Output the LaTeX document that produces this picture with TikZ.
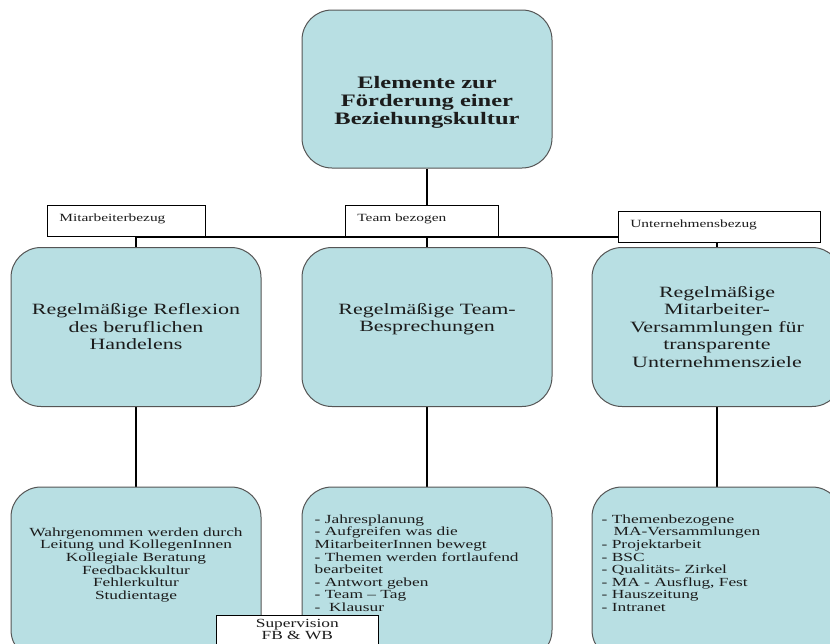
\documentclass[tikz,border=0pt]{standalone}
\usepackage{fontspec}
\newfontfamily\boxfont[FakeStretch=1.4,Ligatures=TeX]{Liberation Serif}
\usetikzlibrary{positioning,backgrounds}
\definecolor{boxblue}{RGB}{184,223,227}
\definecolor{boxline}{RGB}{85,85,85}
\definecolor{inktext}{RGB}{28,28,28}
\tikzset{
  rbox/.style={draw=boxline,fill=boxblue,line width=1pt,rounded corners=30pt,minimum width=250pt},
  bigtext/.style={align=center,text=inktext,font=\boxfont\bfseries\fontsize{17.5}{18}\selectfont},
  midtext/.style={align=center,text=inktext,font=\boxfont\fontsize{15.7}{17.5}\selectfont},
  smalltext/.style={text=inktext,inner sep=0pt,font=\boxfont\fontsize{12.4}{12.6}\selectfont},
  tag/.style={draw,fill=white,line width=.7pt,anchor=north west,inner xsep=12pt,inner ysep=0pt,
    execute at begin node={\rule[-15pt]{0pt}{31pt}},text=inktext,font=\boxfont\fontsize{11}{12}\selectfont},
  conn/.style={line width=2.6pt}
}
\begin{document}
\begin{tikzpicture}[x=1pt,y=-1pt]
	\useasboundingbox (0,0) rectangle (830,643);
	% top element
	\node[rbox,minimum height=158pt] (elem) at (427,89) {};
	\node[bigtext] at ([yshift=-13pt]elem.center) {Elemente zur\\F\"orderung einer\\Beziehungskultur};
	% the three branches
	\node[tag,text width=134pt] (mab) at (47,205) {Mitarbeiterbezug};
	\node[tag,text width=129pt] (tb) at (345,205) {Team bezogen};
	\node[tag,text width=178pt,execute at begin node={\rule[-13pt]{0pt}{28pt}}] (ub) at (618,211) {Unternehmensbezug};
	\node[rbox,minimum height=159pt,midtext] (refl) at (136,327) {Regelm\"a\ss ige Reflexion\\des beruflichen\\Handelens};
	\node[rbox,minimum height=159pt] (team) at (427,327) {};
	\node[midtext] at ([yshift=8pt]team.center) {Regelm\"a\ss ige Team-\\Besprechungen};
	\node[rbox,minimum height=159pt,midtext] (versamm) at (717,327) {Regelm\"a\ss ige\\Mitarbeiter-\\Versammlungen f\"ur\\transparente\\Unternehmensziele};
	% lower boxes
	\node[rbox,minimum height=173pt] (wahr) at (136,573.5) {};
	\node[rbox,minimum height=173pt] (jahr) at (427,573.5) {};
	\node[rbox,minimum height=173pt] (themen) at (717,573.5) {};
	\node[smalltext,align=center,below=41pt of wahr.north] {Wahrgenommen werden durch\\Leitung und KollegenInnen\\Kollegiale Beratung\\Feedbackkultur\\Fehlerkultur\\Studientage};
	\node[smalltext,align=left,below right=28pt and 13pt of jahr.north west] {- Jahresplanung\\- Aufgreifen was die\\MitarbeiterInnen bewegt\\- Themen werden fortlaufend\\bearbeitet\\- Antwort geben\\- Team – Tag\\-\ \ Klausur};
	\node[smalltext,align=left,below right=28pt and 10pt of themen.north west] {- Themenbezogene\\\hspace*{12pt}MA-Versammlungen\\- Projektarbeit\\- BSC\\- Qualit\"ats- Zirkel\\- MA - Ausflug, Fest\\- Hauszeitung\\- Intranet};
	\node[draw,fill=white,line width=.7pt,anchor=north west,minimum width=162pt,inner ysep=4pt,align=center,
	  text=inktext,font=\boxfont\fontsize{12.4}{12.2}\selectfont] (superv) at (216,615) {Supervision\\FB \& WB};
	% connectors
	\coordinate (bar) at (427,237);
	\begin{scope}[on background layer]
		\fill[white] (0,0) rectangle (830,643);
		\draw[conn] (elem.south) -- (team.north);
		\draw[conn] (refl.north) |- (bar -| ub.west);
		\draw[conn] (versamm.north |- ub.south) -- (versamm.north);
		\draw[conn] (refl.south) -- (wahr.north);
		\draw[conn] (team.south) -- (jahr.north);
		\draw[conn] (versamm.south) -- (themen.north);
	\end{scope}
\end{tikzpicture}
\end{document}
